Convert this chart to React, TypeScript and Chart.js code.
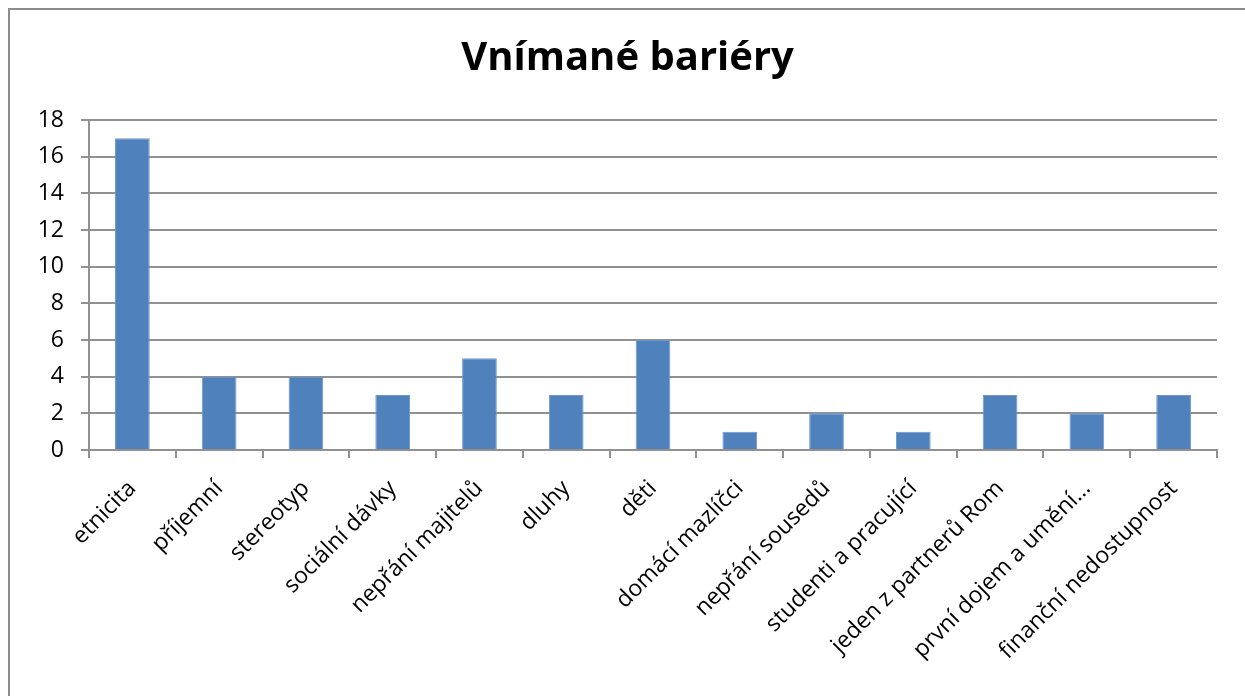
import React, { useEffect, useRef } from "react";
import { Chart, registerables } from "chart.js";

Chart.register(...registerables);

const categories = [
  "etnicita",
  "příjemní",
  "stereotyp",
  "sociální dávky",
  "nepřání majitelů",
  "dluhy",
  "děti",
  "domácí mazlíčci",
  "nepřání sousedů",
  "studenti a pracující",
  "jeden z partnerů Rom",
  "první dojem a umění…",
  "finanční nedostupnost",
];
const values = [17, 4, 4, 3, 5, 3, 6, 1, 2, 1, 3, 2, 3];
const chartTitle = "Vnímané bariéry";
const yMin = 0;
const yMax = 18;
const yStep = 2;

export default function App() {
  const ref = useRef<HTMLCanvasElement | null>(null);

  useEffect(() => {
    if (!ref.current) return;
    const font = "'Open Sans', Lato, sans-serif";
    const grid = "#919191";
    const chart = new Chart(ref.current, {
      type: "bar",
      data: {
        labels: categories,
        datasets: [
          {
            data: values,
            backgroundColor: "#4F81BD",
            borderColor: "#6E98CC",
            borderWidth: 1,
            barPercentage: 0.4,
            categoryPercentage: 1,
          },
        ],
      },
      options: {
        animation: false,
        responsive: false,
        maintainAspectRatio: false,
        layout: { padding: { left: 38, right: 28, top: 0, bottom: 0 } },
        plugins: {
          legend: { display: false },
          tooltip: { enabled: false },
          title: {
            display: true,
            text: chartTitle,
            color: "#000",
            font: { family: font, size: 40, weight: "bold" },
            padding: { top: 35, bottom: 37 },
          },
        },
        scales: {
          x: {
            grid: {
              display: true,
              drawOnChartArea: false,
              drawTicks: true,
              tickLength: 8,
              color: grid,
              lineWidth: 2,
              offset: true,
            },
            border: { display: true, color: grid, width: 2 },
            ticks: {
              color: "#000",
              font: { family: font, size: 23 },
              minRotation: 45,
              maxRotation: 45,
              autoSkip: false,
              padding: 17,
            },
            afterFit: (scale: any) => {
              scale.height = 246;
            },
          },
          y: {
            min: yMin,
            max: yMax,
            grid: {
              color: grid,
              lineWidth: 2,
              tickLength: 8,
              drawTicks: true,
            },
            border: { display: true, color: grid, width: 2 },
            ticks: {
              stepSize: yStep,
              color: "#000",
              font: { family: font, size: 23 },
              padding: 17,
            },
            afterFit: (scale: any) => {
              scale.width = 51;
            },
          },
        },
      },
    });
    return () => chart.destroy();
  }, []);

  return (
    <div
      style={{
        position: "fixed",
        left: 0,
        top: 0,
        width: 1245,
        height: 696,
        overflow: "hidden",
        background: "#fff",
      }}
    >
      <div
        style={{
          position: "absolute",
          left: 8,
          top: 8,
          width: 1300,
          height: 800,
          borderLeft: "2px solid #8c8c8c",
          borderTop: "2px solid #8c8c8c",
        }}
      />
      <canvas
        ref={ref}
        width={1245}
        height={696}
        style={{ position: "absolute", left: 0, top: 0, width: 1245, height: 696 }}
      />
    </div>
  );
}
